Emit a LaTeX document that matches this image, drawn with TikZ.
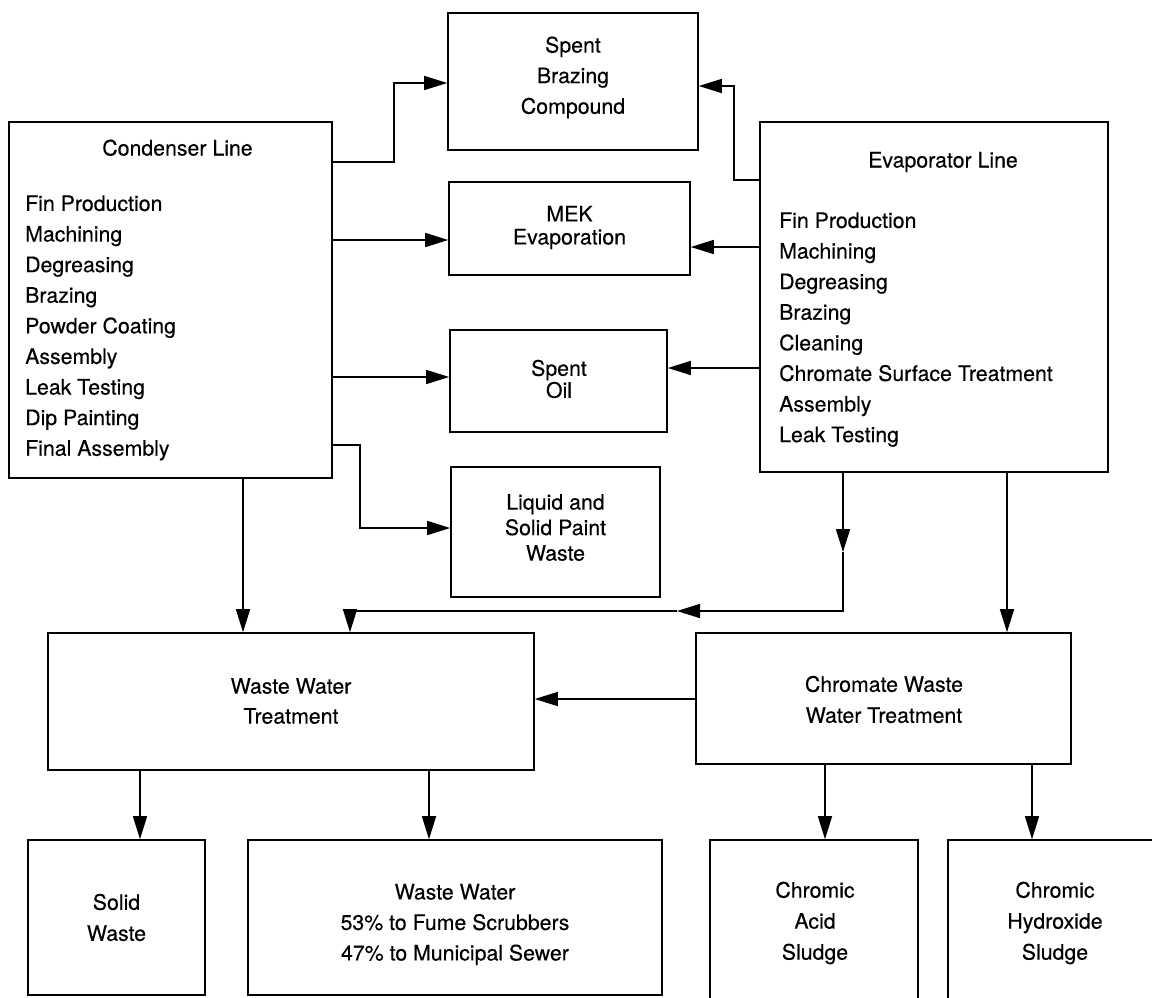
\documentclass[tikz,border=0pt]{standalone}
\usepackage{fontspec}
\setmainfont{TeX Gyre Heros}[FakeBold=0.3]
\usetikzlibrary{arrows.meta}
\begin{document}
\begin{tikzpicture}[x=1pt,y=-1pt,
  blk/.style={draw, line width=1.6pt, rectangle, inner sep=0pt},
  lbl/.style={font=\fontsize{21.3}{#1}\selectfont\addfontfeature{FakeBold=0.3}, inner sep=0pt, align=center},
  lbl/.default=30.6,
  arr/.style={line width=1.6pt, -{Triangle[length=23pt,width=14pt]}}]
\useasboundingbox (0,0) rectangle (1152,997);
\fill[white] (0,0) rectangle (1152,997);
% boxes
\node[blk, minimum width=323pt, minimum height=356pt] (cond) at (170.5,300) {};
\node[blk, minimum width=348pt, minimum height=350pt] (evap) at (934,297) {};
\node[blk, minimum width=250pt, minimum height=137pt] (sbc) at (573,81.5) {};
\node[blk, minimum width=241pt, minimum height=93pt] (mek) at (569.5,228.5) {};
\node[blk, minimum width=217pt, minimum height=102pt] (oil) at (558.5,381) {};
\node[blk, minimum width=209pt, minimum height=130pt] (paint) at (555.5,532) {};
\node[blk, minimum width=486pt, minimum height=137pt] (wwt) at (291,701.5) {};
\node[blk, minimum width=375pt, minimum height=131pt] (cwt) at (883.5,698.5) {};
\node[blk, minimum width=177pt, minimum height=155pt] (solid) at (116.5,917.5) {};
\node[blk, minimum width=414pt, minimum height=155pt] (ww) at (455,917.5) {};
\node[blk, minimum width=208pt, minimum height=170pt] (acid) at (814,925) {};
\node[blk, minimum width=214pt, minimum height=170pt] (hyd) at (1055,925) {};
% texts
\node[lbl, anchor=base] (condT) at (177.5,155.5) {Condenser Line};
\node[lbl, align=left, anchor=north west] (condL) at (25,195.2) {Fin Production\\Machining\\Degreasing\\Brazing\\Powder Coating\\Assembly\\Leak Testing\\Dip Painting\\Final Assembly};
\node[lbl, anchor=base] (evapT) at (943,167.5) {Evaporator Line};
\node[lbl, align=left, anchor=north west] (evapL) at (779,212.2) {Fin Production\\Machining\\Degreasing\\Brazing\\Cleaning\\Chromate Surface Treatment\\Assembly\\Leak Testing};
\node[lbl] (sbcT) at (573,77.5) {Spent\\Brazing\\Compound};
\node[lbl=23] (mekT) at (569.5,227.5) {MEK\\Evaporation};
\node[lbl=22] (oilT) at (559,379) {Spent\\Oil};
\node[lbl=25.5] (paintT) at (555.5,527.5) {Liquid and\\Solid Paint\\Waste};
\node[lbl=30] (wwtT) at (291,701) {Waste Water\\Treatment};
\node[lbl=31] (cwtT) at (884,699.5) {Chromate Waste\\Water Treatment};
\node[lbl=31] (solidT) at (116.5,917.5) {Solid\\Waste};
\node[lbl=30.5] (wwT) at (455,924.5) {Waste Water\\53\% to Fume Scrubbers\\47\% to Municipal Sewer};
\node[lbl=31] (acidT) at (815,923) {Chromic\\Acid\\Sludge};
\node[lbl=31] (hydT) at (1055,923) {Chromic\\Hydroxide\\Sludge};
% helper coordinates
\coordinate (k1) at (394,162); \coordinate (k2) at (394,83);
\coordinate (k3) at (0,240); \coordinate (k4) at (0,377);
\coordinate (k5) at (360,445); \coordinate (k6) at (360,528);
\coordinate (k7) at (243,0);
\coordinate (e1) at (734,180); \coordinate (e2) at (734,86);
\coordinate (e3) at (0,247); \coordinate (e4) at (0,368);
\coordinate (e5) at (843,552); \coordinate (e6) at (843,611);
\coordinate (e7) at (677,611); \coordinate (e8) at (350,611);
\coordinate (e9) at (1007,0);
\coordinate (c1) at (0,699);
\coordinate (w1) at (140,0); \coordinate (w2) at (429,0);
\coordinate (c2) at (825,0); \coordinate (c3) at (1032,0);
% connectors
\draw[arr] (cond.east |- k1) -- (k1) -- (k2) -- (sbc.west |- k2);
\draw[arr] (cond.east |- k3) -- (mek.west |- k3);
\draw[arr] (cond.east |- k4) -- (oil.west |- k4);
\draw[arr] (cond.east |- k5) -- (k5) -- (k6) -- (paint.west |- k6);
\draw[arr] (cond.south -| k7) -- (wwt.north -| k7);
\draw[arr] (evap.west |- e1) -- (e1) -- (e2) -- (sbc.east |- e2);
\draw[arr] (evap.west |- e3) -- (mek.east |- e3);
\draw[arr] (evap.west |- e4) -- (oil.east |- e4);
\draw[arr] (evap.south -| e5) -- (e5);
\draw[arr] (e5) -- (e6) -- (e7);
\draw[arr] (e7) -- (e8) -- (wwt.north -| e8);
\draw[arr] (evap.south -| e9) -- (cwt.north -| e9);
\draw[arr] (cwt.west |- c1) -- (wwt.east |- c1);
\draw[arr] (wwt.south -| w1) -- (solid.north -| w1);
\draw[arr] (wwt.south -| w2) -- (ww.north -| w2);
\draw[arr] (cwt.south -| c2) -- (acid.north -| c2);
\draw[arr] (cwt.south -| c3) -- (hyd.north -| c3);
\end{tikzpicture}
\end{document}
